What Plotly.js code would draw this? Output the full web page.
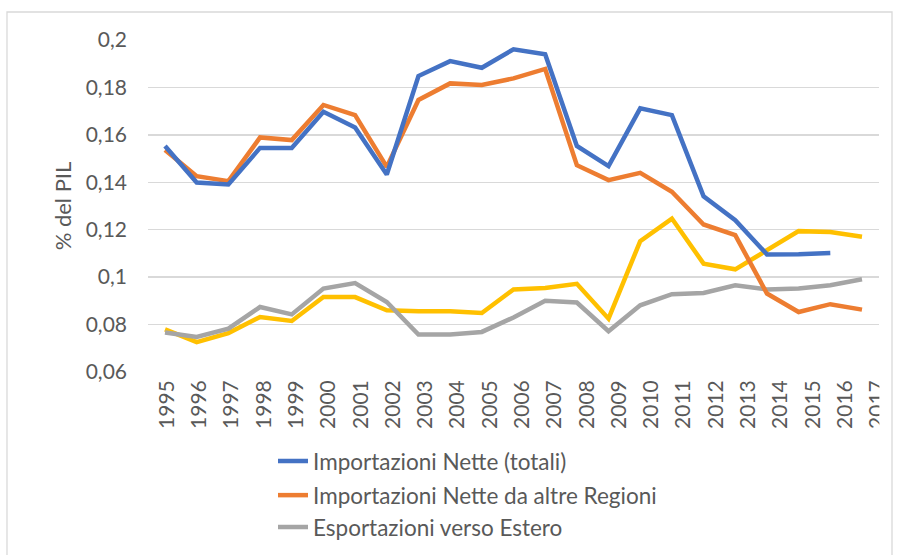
<!DOCTYPE html>
<html>
<head>
<meta charset="utf-8">
<script src="https://cdn.plot.ly/plotly-3.0.1.min.js"></script>
<style>
  html, body { margin: 0; padding: 0; background: #ffffff; }
  #chart { width: 899px; height: 555px; }
</style>
</head>
<body>
<div id="chart"></div>
<script>
const years = ["1995","1996","1997","1998","1999","2000","2001","2002","2003","2004","2005","2006","2007","2008","2009","2010","2011","2012","2013","2014","2015","2016","2017"];

const importazioniTotali = [0.1553,0.1399,0.1391,0.1545,0.1545,0.1697,0.1631,0.1433,0.1848,0.1911,0.1883,0.1961,0.1940,0.1553,0.1468,0.1712,0.1683,0.1341,0.1240,0.1096,0.1097,0.1102,null];
const importazioniRegioni = [0.1536,0.1426,0.1405,0.1589,0.1578,0.1726,0.1683,0.1465,0.1747,0.1817,0.1810,0.1838,0.1878,0.1472,0.1409,0.1440,0.1360,0.1222,0.1177,0.0931,0.0853,0.0886,0.0863];
const esportazioniEstero = [0.0767,0.0748,0.0783,0.0874,0.0843,0.0952,0.0975,0.0895,0.0758,0.0758,0.0769,0.0830,0.0900,0.0893,0.0772,0.0881,0.0928,0.0933,0.0966,0.0948,0.0952,0.0966,0.0991];
const serieGialla = [0.0780,0.0726,0.0764,0.0832,0.0815,0.0916,0.0916,0.0860,0.0856,0.0856,0.0849,0.0948,0.0954,0.0972,0.0825,0.1152,0.1247,0.1057,0.1033,0.1112,0.1194,0.1190,0.1170];

const yTickVals = [0.06,0.08,0.10,0.12,0.14,0.16,0.18,0.20];
const yTickText = ["0,06","0,08","0,1","0,12","0,14","0,16","0,18","0,2"];

const names = ["Importazioni Nette (totali)","Importazioni Nette da altre Regioni","Esportazioni verso Estero"];

const textColor = "#595959";
const fontFam = "Lato, 'Open Sans', sans-serif";

const labelIdx = years.map((_, i) => i);

const traces = [
  {x: years, y: serieGialla, type: "scatter", mode: "lines", line: {color: "#FFC000", width: 4.5}, showlegend: false, hoverinfo: "skip"},
  {x: years, y: esportazioniEstero, name: names[2], type: "scatter", mode: "lines", line: {color: "#A5A5A5", width: 4.5}, legend: "legend3"},
  {x: years, y: importazioniRegioni, name: names[1], type: "scatter", mode: "lines", line: {color: "#ED7D31", width: 4.5}, legend: "legend2"},
  {x: years, y: importazioniTotali, name: names[0], type: "scatter", mode: "lines", line: {color: "#4472C4", width: 4.5}, legend: "legend"},
  {x: labelIdx, y: labelIdx.map(() => null), xaxis: "x2", type: "scatter", mode: "lines", showlegend: false, hoverinfo: "skip"}
];

const legendBase = {
  xanchor: "left", yanchor: "middle",
  font: {family: fontFam, size: 22.5, color: textColor},
  bgcolor: "rgba(0,0,0,0)", borderwidth: 0
};

const layout = {
  width: 899, height: 555,
  paper_bgcolor: "#ffffff", plot_bgcolor: "#ffffff",
  margin: {l: 148, r: 20, t: 40, b: 183, autoexpand: false},
  separators: ",.",
  font: {family: fontFam, color: textColor},
  xaxis: {
    type: "category",
    categoryarray: years,
    categoryorder: "array",
    range: [-0.537, 22.537],
    showgrid: false,
    zeroline: false,
    showline: false,
    showticklabels: false,
    ticks: ""
  },
  xaxis2: {
    type: "linear",
    overlaying: "x",
    anchor: "y",
    side: "bottom",
    tickvals: labelIdx,
    ticktext: years,
    range: [-0.586, 22.05],
    tickangle: -90,
    showgrid: false,
    zeroline: false,
    showline: false,
    ticks: "",
    ticklabelstandoff: 3,
    tickfont: {family: fontFam, size: 21, color: textColor}
  },
  yaxis: {
    range: [0.06, 0.2],
    tickvals: yTickVals,
    ticktext: yTickText,
    showgrid: true,
    gridcolor: "#D9D9D9",
    gridwidth: 1.3,
    zeroline: false,
    showline: false,
    ticks: "",
    ticklabelstandoff: 20,
    tickfont: {family: fontFam, size: 21, color: textColor},
    title: {text: "% del PIL", font: {family: fontFam, size: 22, color: textColor}, standoff: 7}
  },
  legend: Object.assign({}, legendBase, {x: 0.171, y: -0.269}),
  legend2: Object.assign({}, legendBase, {x: 0.171, y: -0.372}),
  legend3: Object.assign({}, legendBase, {x: 0.171, y: -0.468}),
  shapes: [
    {type: "rect", xref: "paper", yref: "paper", x0: 1.0005, x1: 1.0175, y0: -0.005, y1: -0.25, fillcolor: "#ffffff", line: {width: 0}, layer: "above"},
    {type: "rect", xref: "paper", yref: "paper", x0: -0.1929, x1: 1.0178, y0: 1.0844, y1: -0.6, fillcolor: "rgba(0,0,0,0)", line: {color: "#D9D9D9", width: 1.3}, layer: "above"}
  ],
  showlegend: true
};

Plotly.newPlot("chart", traces, layout, {displayModeBar: false, staticPlot: true});
</script>
</body>
</html>
